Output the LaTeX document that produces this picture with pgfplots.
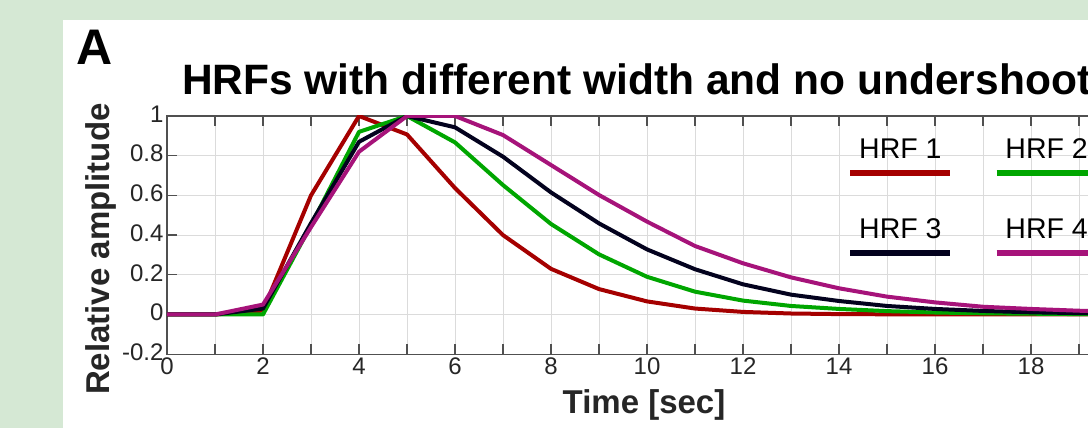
\documentclass[border=0pt]{standalone}
\usepackage{fontspec}
\setmainfont{Liberation Sans}
\usepackage{pgfplots}
\pgfplotsset{compat=1.18}
\definecolor{bgg}{HTML}{D5E8D4}
\definecolor{hrfA}{HTML}{A50000}
\definecolor{hrfB}{HTML}{00A600}
\definecolor{hrfC}{HTML}{03021E}
\definecolor{hrfD}{HTML}{A6137A}
\definecolor{axgray}{HTML}{505050}
\definecolor{txt}{HTML}{262626}
\newcommand\hrfleg[2]{%
  \path[draw=none,fill=none] (0pt,-40pt) rectangle (142pt,40pt);
  \draw[#1,line width=6.5pt,line cap=butt] (0pt,0pt) -- (100pt,0pt);
  \node[anchor=base,inner sep=0pt,draw=none,fill=none,text=black,font=\fontsize{28.5}{32}\selectfont] at (50pt,14pt) {#2};}
\pgfplotsset{
  legA/.style={legend image code/.code={\hrfleg{##1}{HRF 1}}},
  legB/.style={legend image code/.code={\hrfleg{##1}{HRF 2}}},
  legC/.style={legend image code/.code={\hrfleg{##1}{HRF 3}}},
  legD/.style={legend image code/.code={\hrfleg{##1}{HRF 4}}},
}
\begin{document}
\begin{tikzpicture}
\fill[bgg] (0pt,0pt) rectangle (1088pt,428pt);
\fill[white] (63pt,0pt) rectangle (1200pt,408pt);
\node[anchor=base west,inner sep=0pt,font=\bfseries\fontsize{50}{56}\selectfont] at (76pt,363pt) {A};
\begin{axis}[
  anchor=origin, at={(167pt,113.5pt)},
  x=48pt, y=198.5pt,
  xmin=0, xmax=20, ymin=-0.2, ymax=1,
  xtick={0,2,4,6,8,10,12,14,16,18,20},
  xticklabels={0,2,4,6,8,10,12,14,16,18,20},
  minor xtick={1,3,5,7,9,11,13,15,17,19},
  ytick={-0.2,0,0.2,0.4,0.6,0.8,1},
  yticklabels={-0.2,0,0.2,0.4,0.6,0.8,1},
  grid=both,
  major grid style={black!14, line width=1pt},
  minor grid style={black!14, line width=1pt},
  tick align=inside,
  major tick length=10pt, minor tick length=10pt,
  tick style={axgray, line width=1.2pt},
  axis line style={axgray, line width=1.3pt},
  ticklabel style={font=\fontsize{24}{28}\selectfont, text=txt},
  yticklabel style={yshift=2pt},
  title={HRFs with different width and no undershoot},
  title style={at={(axis description cs:0.0156,1.063)}, anchor=base west, inner sep=0pt, font=\bfseries\fontsize{42.5}{48}\selectfont, text=black},
  xlabel={Time [sec]},
  xlabel style={at={(axis description cs:0.4969,-0.2479)}, anchor=base, inner sep=0pt, font=\bfseries\fontsize{33}{38}\selectfont, text=txt},
  ylabel={Relative amplitude},
  ylabel style={at={(axis description cs:-0.0594,0.4412)}, anchor=base, inner sep=0pt, font=\bfseries\fontsize{33}{38}\selectfont, text=txt},
  legend columns=2,
  legend style={at={(axis cs:14.17,0.9144)}, anchor=north west, draw=none, fill=none, inner sep=0pt, outer sep=0pt, column sep=0pt, row sep=0pt, nodes={inner sep=0pt, outer sep=0pt}},
]
\addplot[hrfA, line width=4pt, line join=round, legA] coordinates {
(0,0) (1,0) (2,0.02) (3,0.60) (4,1.0) (5,0.907) (6,0.637) (7,0.40) (8,0.23) (9,0.128) (10,0.066)
(11,0.030) (12,0.013) (13,0.005) (14,0.002) (15,0.001) (16,0) (17,0) (18,0) (19,0) (20,0)};
\addlegendentry{}
\addplot[hrfB, line width=4pt, line join=round, legB] coordinates {
(0,0) (1,0) (2,0) (3,0.45) (4,0.92) (5,1.0) (6,0.867) (7,0.652) (8,0.456) (9,0.303) (10,0.19)
(11,0.115) (12,0.07) (13,0.043) (14,0.028) (15,0.017) (16,0.010) (17,0.006) (18,0.004) (19,0.002) (20,0.001)};
\addlegendentry{}
\addplot[hrfC, line width=4pt, line join=round, legC] coordinates {
(0,0) (1,0) (2,0.03) (3,0.46) (4,0.87) (5,1.0) (6,0.943) (7,0.795) (8,0.615) (9,0.459) (10,0.328)
(11,0.228) (12,0.152) (13,0.10) (14,0.068) (15,0.043) (16,0.028) (17,0.018) (18,0.011) (19,0.007) (20,0.004)};
\addlegendentry{}
\addplot[hrfD, line width=4pt, line join=round, legD] coordinates {
(0,0) (1,0) (2,0.05) (3,0.44) (4,0.82) (5,1.0) (6,1.0) (7,0.904) (8,0.753) (9,0.602) (10,0.468)
(11,0.345) (12,0.258) (13,0.187) (14,0.132) (15,0.09) (16,0.061) (17,0.039) (18,0.028) (19,0.019) (20,0.012)};
\addlegendentry{}
\end{axis}
\pgfresetboundingbox
\path[use as bounding box] (0pt,0pt) rectangle (1088pt,428pt);
\end{tikzpicture}
\end{document}
